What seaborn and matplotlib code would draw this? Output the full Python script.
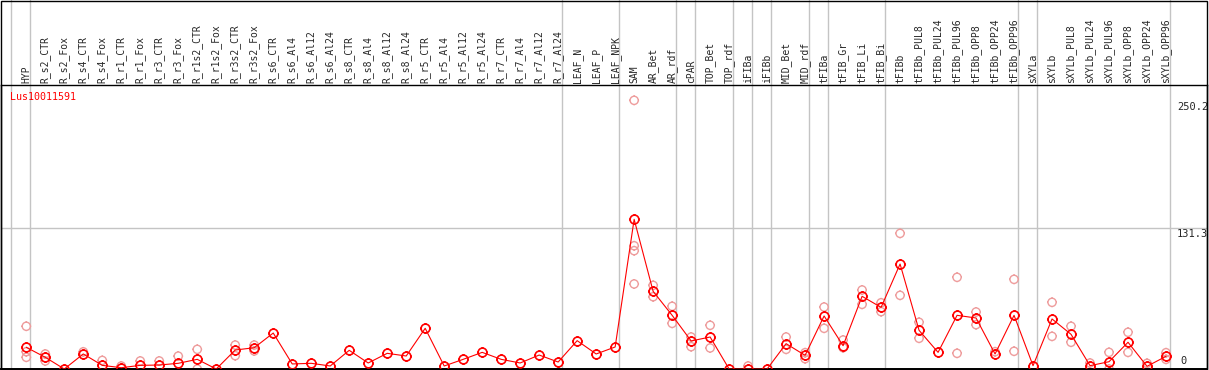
import numpy as np
import pandas as pd
import matplotlib
matplotlib.use("Agg")
import matplotlib.pyplot as plt
from matplotlib.path import Path
from matplotlib.patches import Rectangle
import seaborn as sns

# Expression data for Lus10011591
gene = "Lus10011591"
samples = ["HYP", "R_s2_CTR", "R_s2_Fox", "R_s4_CTR", "R_s4_Fox", "R_r1_CTR", "R_r1_Fox",
           "R_r3_CTR", "R_r3_Fox", "R_r1s2_CTR", "R_r1s2_Fox", "R_r3s2_CTR", "R_r3s2_Fox",
           "R_s6_CTR", "R_s6_Al4", "R_s6_Al12", "R_s6_Al24", "R_s8_CTR", "R_s8_Al4",
           "R_s8_Al12", "R_s8_Al24", "R_r5_CTR", "R_r5_Al4", "R_r5_Al12", "R_r5_Al24",
           "R_r7_CTR", "R_r7_Al4", "R_r7_Al12", "R_r7_Al24", "LEAF_N", "LEAF_P", "LEAF_NPK",
           "SAM", "AR_Bet", "AR_rdf", "cPAR", "TOP_Bet", "TOP_rdf", "iFIBa", "iFIBb",
           "MID_Bet", "MID_rdf", "tFIBa", "tFIB_Gr", "tFIB_Li", "tFIB_Bi", "tFIBb",
           "tFIBb_PUL8", "tFIBb_PUL24", "tFIBb_PUL96", "tFIBb_OPP8", "tFIBb_OPP24",
           "tFIBb_OPP96", "sXYLa", "sXYLb", "sXYLb_PUL8", "sXYLb_PUL24", "sXYLb_PUL96",
           "sXYLb_OPP8", "sXYLb_OPP24", "sXYLb_OPP96"]
means = [20.2, 10.9, 0, 14, 3.4, 1.2, 3.4, 3.7, 5.3, 9, 0, 17.7, 19.8,
         33.5, 4.7, 5.3, 2.8, 17.4, 5.6, 14.6, 12.1, 37.9, 2.8, 9, 15.5,
         9, 5.6, 13, 6.5, 26.4, 14, 20.5,
         139.4, 72.3, 50, 26.1, 29.8, 0, 0, 0, 23.6, 12.7, 49.4, 21.7, 67.7, 57.4, 97.8,
         36, 15.5, 50, 47.5, 14, 50, 3.1, 46.6, 32.3, 3.1, 6.8, 24.9, 2.5, 11.8]
reps = [[39.8, 16.1, 10.9], [14, 7.5], [], [16], [8], [2.8], [7.5], [7.5], [12],
        [18.3, 0], [], [22.3, 12.4], [22.3, 16.8],
        [], [], [], [], [], [], [], [], [], [], [], [],
        [], [], [], [], [], [], [],
        [250.2, 114.8, 110.2, 79.2], [77.9, 67.3], [58.4, 42.5], [29.8, 20.8],
        [40.7, 19.6], [], [2.8], [], [29.8, 18.3], [15.2, 9.6], [57.7, 37.9],
        [27, 19.8], [73.6, 60.2], [61.7, 53.4], [126.3, 68.6],
        [43.5, 28.6], [], [85.4, 14.6], [53.1, 41.3], [16.1], [83.5, 16.5], [],
        [62.1, 30.4], [39.8, 24.9], [5.6], [15.5, 0], [34.2, 15.5], [5.3], [15.2, 9]]
group_ends = [-1, 0, 28, 31, 34, 35, 37, 38, 39, 41, 42, 45, 52, 53, 60]
ytick_vals = [0, 131.3, 250.2]

mean_df = pd.DataFrame({"idx": np.arange(len(samples)), "value": means})
rep_df = pd.DataFrame([(i, v) for i, r in enumerate(reps) for v in r], columns=["idx", "value"])

sns.set_style("white")
plt.rcParams["font.family"] = ["DejaVu Sans Mono"]

# circle with four short ticks, like the original markers
circ = Path.unit_circle()
t0, t1 = 1.0, 1.2
tick_verts = [(0, t0), (0, t1), (0, -t0), (0, -t1), (t0, 0), (t1, 0), (-t0, 0), (-t1, 0)]
tick_codes = [Path.MOVETO, Path.LINETO] * 4
sun = Path.make_compound_path(circ, Path(tick_verts, tick_codes))

W, H = 1209, 370
fig = plt.figure(figsize=(W / 100, H / 100), dpi=100)
ax = fig.add_axes([1 / W, 1 / H, 1206 / W, 284 / H])

px = 19.0
ax.set_xlim(-25.3 / px, 60 + 41 / px)
ax.set_ylim(0, 264.5)

grid_c = "#c4c4c4"
top_ext = 1 + 85 / 284
for g in group_ends:
    ax.axvline(g + 0.22, ymin=0, ymax=top_ext, color=grid_c, lw=1.0, clip_on=False, zorder=0)
ax.axhline(ytick_vals[1], color=grid_c, lw=1.0, zorder=0)

pink = "#ee9c9c"
sns.scatterplot(data=rep_df, x="idx", y="value", ax=ax, marker=sun, s=50,
                color=pink, linewidth=1.0, zorder=2, legend=False)
for coll in ax.collections:
    coll.set_facecolor("none")
    coll.set_edgecolor(pink)

sns.lineplot(data=mean_df, x="idx", y="value", ax=ax, color="red", lw=0.8,
             marker=sun, markersize=7.6, mfc="none", mec="red", mew=1.2, zorder=3)

for i, name in enumerate(samples):
    ax.text(i, 1 + 2 / 284, name, transform=ax.get_xaxis_transform(), rotation=90,
            ha="center", va="bottom", fontsize=7, clip_on=False)

ax.text(9 / 1206, (369 - 97) / 284, gene, transform=ax.transAxes, color="red",
        fontsize=7.2, ha="left", va="center")

lab_x = 1176 / 1206
ax.annotate(f"{ytick_vals[2]}", (lab_x, ytick_vals[2]), xycoords=("axes fraction", "data"),
            xytext=(0, -1), textcoords="offset points", ha="left", va="top", fontsize=7.5)
ax.annotate(f"{ytick_vals[1]}", (lab_x, ytick_vals[1]), xycoords=("axes fraction", "data"),
            xytext=(0, -1), textcoords="offset points", ha="left", va="top", fontsize=7.5)
ax.annotate(f"{ytick_vals[0]}", (lab_x + 3 / 1206, ytick_vals[0]), xycoords=("axes fraction", "data"),
            xytext=(0, 2), textcoords="offset points", ha="left", va="bottom", fontsize=7.5)

ax.set_xticks([])
ax.set_yticks([])
ax.set_xlabel("")
ax.set_ylabel("")
for sp in ax.spines.values():
    sp.set_color("black")
    sp.set_linewidth(1.0)
ax.spines["bottom"].set_linewidth(1.4)

# outer frame of the whole picture
fig.add_artist(Rectangle((1 / W, 1 / H), 1206 / W, (H - 1.5) / H, transform=fig.transFigure,
                         fill=False, ec="black", lw=1.0))

fig.savefig("out.png", dpi=100)
